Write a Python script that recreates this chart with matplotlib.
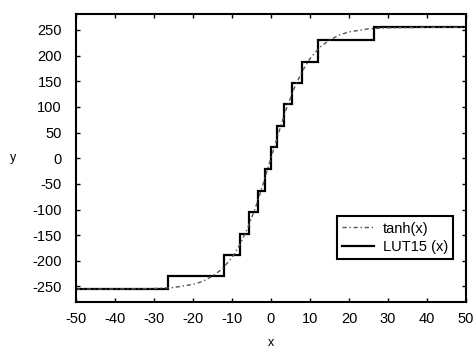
import matplotlib
matplotlib.use("Agg")
import matplotlib.pyplot as plt

plt.rcParams['font.family'] = ['Liberation Sans', 'DejaVu Sans']
plt.rcParams['axes.unicode_minus'] = False

# tanh(x) curve, values
tanh_x = [-50, -40, -30, -25, -20, -17.5, -15, -12.5, -10, -8, -6, -4, -3, -2, -1, 0,
          1, 2, 3, 4, 6, 8, 10, 12.5, 15, 17.5, 20, 25, 30, 40, 50]
tanh_y = [-255, -255, -254, -252, -246, -240, -230, -216, -194, -169, -137, -97, -74, -50, -25, 0,
          25, 50, 74, 97, 137, 169, 194, 216, 230, 240, 246, 252, 254, 255, 255]

# LUT15 step function: edges and levels
lut_edges = [-50, -26.5, -12, -8, -5.5, -3.4, -1.6, 0, 1.6, 3.4, 5.5, 8, 12, 26.5, 50]
lut_levels = [-255, -230, -188, -147, -105, -63, -21, 21, 63, 105, 147, 188, 230, 255]

x_ticks = [-50, -40, -30, -20, -10, 0, 10, 20, 30, 40, 50]
y_ticks = [-250, -200, -150, -100, -50, 0, 50, 100, 150, 200, 250]

fig = plt.figure(figsize=(4.77, 3.49), dpi=100)
ax = fig.add_axes([0.159, 0.135, 0.818, 0.825])

ax.plot(tanh_x, tanh_y, color='#555555', lw=1.0, linestyle=(0, (3, 2, 1, 2)), label='tanh(x)')
ax.stairs(lut_levels, lut_edges, color='black', lw=1.6, baseline=None, label='LUT15 (x)')

ax.set_xlim(-50, 50)
ax.set_ylim(-280, 281)
ax.set_xticks(x_ticks)
ax.set_yticks(y_ticks)
ax.tick_params(direction='in', top=True, right=True, length=3, width=1, labelsize=10.5)
ax.tick_params(axis='x', pad=7)
ax.tick_params(axis='y', pad=10)
for s in ax.spines.values():
    s.set_linewidth(1.5)

ax.set_xlabel('x', fontsize=9, labelpad=8)
ax.set_ylabel('y', fontsize=9, rotation=0, labelpad=14, va='center')

leg = ax.legend(loc='lower right', bbox_to_anchor=(0.967, 0.149), fontsize=10.5, frameon=True,
                fancybox=False, edgecolor='black', framealpha=1, handlelength=2.2,
                handletextpad=0.6, borderpad=0.35, labelspacing=0.3, borderaxespad=0)
leg.get_frame().set_linewidth(1.5)

fig.savefig('out.png', dpi=100)
